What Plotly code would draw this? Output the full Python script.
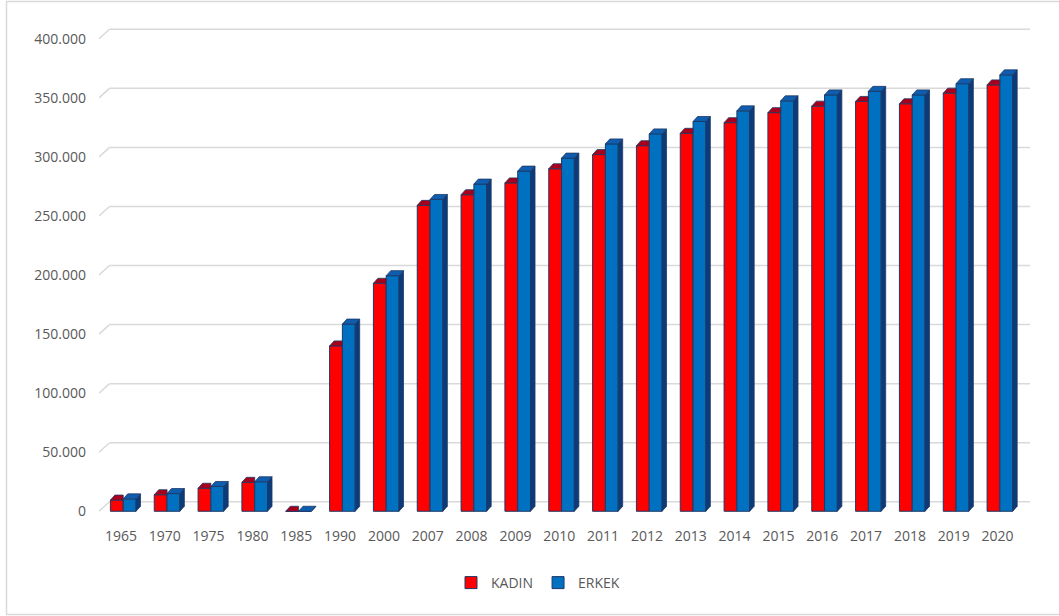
import plotly.graph_objects as go

# Data
years = ["1965", "1970", "1975", "1980", "1985", "1990", "2000", "2007", "2008", "2009", "2010",
         "2011", "2012", "2013", "2014", "2015", "2016", "2017", "2018", "2019", "2020"]
kadin = [9500, 14000, 19500, 24500, 0, 140000, 193000, 259000, 268000, 278000, 290000,
         302000, 309500, 320000, 329000, 337500, 343000, 347000, 345000, 354000, 361000]
erkek = [10500, 15000, 21000, 25000, 0, 158500, 199500, 264000, 277000, 288000, 299000,
         311000, 319500, 330000, 339000, 347500, 352500, 355500, 352500, 362000, 369500]
y_ticks = [0, 50000, 100000, 150000, 200000, 250000, 300000, 350000, 400000]

# Layout geometry (pixels)
W, H = 1059, 616
M_L, M_R, M_T, M_B = 99, 29, 27, 100
Y_MIN, Y_MAX = -4000, 410000
GRID_DX, GRID_DY = 10.5, 9.5      # back-wall offset of the gridlines
BAR_DX, BAR_DY = 4.5, 5.0         # depth of each column
BAR_W_PX = 12.8
RED_OFF_PX = -10.5

plot_w = W - M_L - M_R
plot_h = H - M_T - M_B
n = len(years)
px_x = (plot_w - GRID_DX) / n                 # pixels per category
px_y = plot_h / (Y_MAX - Y_MIN)               # pixels per unit value
gx, gy = GRID_DX / px_x, GRID_DY / px_y
dx, dy = BAR_DX / px_x, BAR_DY / px_y
bw = BAR_W_PX / px_x
red_off = RED_OFF_PX / px_x
blue_off = red_off + bw
x_max = n - 0.5 + gx

idx = list(range(n))
RED, RED_TOP = "#FF0000", "#A8001C"
BLUE, BLUE_TOP, BLUE_SIDE = "#0070C0", "#0E5DAE", "#0B3B78"
EDGE = "#1F3864"
GRID = "#D9D9D9"
TXT = "#595959"

fig = go.Figure()
fig.add_trace(go.Bar(x=idx, y=kadin, name="KADIN", width=bw, offset=red_off,
                     marker=dict(color=RED, line=dict(color=EDGE, width=1))))
fig.add_trace(go.Bar(x=idx, y=erkek, name="ERKEK", width=bw, offset=blue_off,
                     marker=dict(color=BLUE, line=dict(color=EDGE, width=1))))

shapes = []
# back-wall gridlines with the diagonal join to the front plane
for v in y_ticks:
    shapes.append(dict(type="line", xref="x", yref="y", x0=-0.5, y0=v, x1=-0.5 + gx, y1=v + gy,
                       line=dict(color=GRID, width=1.5), layer="below"))
    shapes.append(dict(type="line", xref="x", yref="y", x0=-0.5 + gx, y0=v + gy, x1=x_max, y1=v + gy,
                       line=dict(color=GRID, width=1.5), layer="below"))


def poly(pts):
    return "M " + " L ".join(f"{x},{y}" for x, y in pts) + " Z"


for i in idx:
    # KADIN top face (right part hidden by the ERKEK column)
    xl, xr, v = i + red_off, i + red_off + bw, kadin[i]
    shapes.append(dict(type="path", xref="x", yref="y",
                       path=poly([(xl, v), (xl + dx, v + dy), (xr, v + dy), (xr, v)]),
                       fillcolor=RED_TOP, line=dict(color=EDGE, width=0.8), layer="above"))
    # ERKEK top and side faces
    xl, xr, v = i + blue_off, i + blue_off + bw, erkek[i]
    shapes.append(dict(type="path", xref="x", yref="y",
                       path=poly([(xr, 0), (xr + dx, dy), (xr + dx, v + dy), (xr, v)]),
                       fillcolor=BLUE_SIDE, line=dict(color=EDGE, width=0.8), layer="above"))
    shapes.append(dict(type="path", xref="x", yref="y",
                       path=poly([(xl, v), (xl + dx, v + dy), (xr + dx, v + dy), (xr, v)]),
                       fillcolor=BLUE_TOP, line=dict(color=EDGE, width=0.8), layer="above"))

# outer frame of the chart
def px_to_paper_x(p):
    return (p - M_L) / plot_w


def px_to_paper_y(p):
    return (H - M_B - p) / plot_h


shapes.append(dict(type="rect", xref="paper", yref="paper",
                   x0=px_to_paper_x(6.5), x1=px_to_paper_x(1062),
                   y0=px_to_paper_y(614.5), y1=px_to_paper_y(1.5),
                   line=dict(color=GRID, width=1.5), layer="below"))

fig.update_layout(
    width=W, height=H,
    margin=dict(l=M_L, r=M_R, t=M_T, b=M_B),
    paper_bgcolor="white", plot_bgcolor="white",
    barmode="overlay",
    font=dict(family="Open Sans", size=14, color=TXT),
    shapes=shapes,
    showlegend=True,
    legend=dict(orientation="h", x=px_to_paper_x(538), xanchor="center",
                y=px_to_paper_y(583), yanchor="middle",
                font=dict(size=14, color=TXT), itemwidth=30, tracegroupgap=0),
    xaxis=dict(range=[-0.5, x_max], tickmode="array", tickvals=idx, ticktext=years,
               showgrid=False, zeroline=False, showline=False, ticks="",
               ticklabelstandoff=10, fixedrange=True),
    yaxis=dict(range=[Y_MIN, Y_MAX], tickmode="array", tickvals=y_ticks,
               ticktext=[f"{v:,}".replace(",", ".") for v in y_ticks],
               showgrid=False, zeroline=False, showline=False, ticks="",
               ticklabelstandoff=12, fixedrange=True),
)

fig.write_html("out.html")
